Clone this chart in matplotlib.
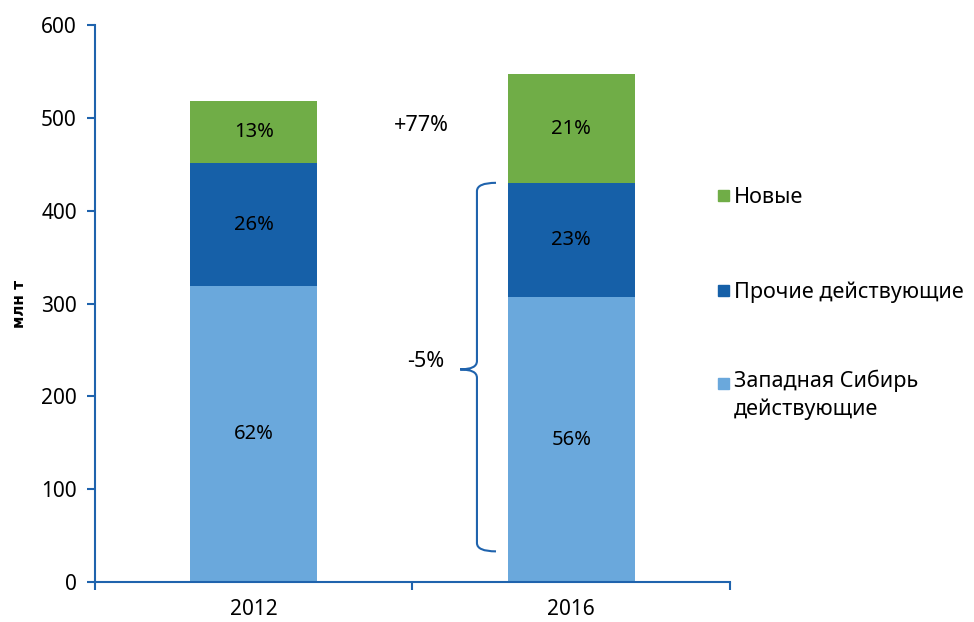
import matplotlib.pyplot as plt
from matplotlib.path import Path
from matplotlib.patches import PathPatch, Rectangle
import numpy as np

plt.rcParams['font.family'] = ['Noto Sans', 'DejaVu Sans']

# data (млн т)
years = ["2012", "2016"]
west_siberia = [319, 307]
other_active = [132, 123]
new_fields = [67, 117]
pct_west = ["62%", "56%"]
pct_other = ["26%", "23%"]
pct_new = ["13%", "21%"]
labels = ["Новые", "Прочие действующие", "Западная Сибирь\nдействующие"]

c_light = "#6aa8dc"
c_dark = "#1660a8"
c_green = "#70ad47"
c_axis = "#1f63ad"

fig = plt.figure(figsize=(9.74, 6.22), dpi=100)
ax = fig.add_axes([0.0975, 0.0643, 0.652, 0.8955])

x = np.arange(len(years))
w = 0.4
b1 = np.array(west_siberia)
b2 = b1 + np.array(other_active)
ax.bar(x, west_siberia, w, color=c_light)
ax.bar(x, other_active, w, bottom=b1, color=c_dark)
ax.bar(x, new_fields, w, bottom=b2, color=c_green)

fs_pct = 14.5
for i in range(len(years)):
    ax.text(x[i], west_siberia[i] / 2, pct_west[i], ha='center', va='center', fontsize=fs_pct)
    ax.text(x[i], b1[i] + other_active[i] / 2, pct_other[i], ha='center', va='center', fontsize=fs_pct)
    ax.text(x[i], b2[i] + new_fields[i] / 2, pct_new[i], ha='center', va='center', fontsize=fs_pct)

ax.text(0.527, 492, "+77%", ha='center', va='center', fontsize=15.5)
ax.text(0.54, 237, "-5%", ha='center', va='center', fontsize=15.5)

# brace
top, bot, tip = b2[1], 33, 229
xl, xt, xe = 0.703, 0.65, 0.763
r = 9
verts = [(xe, top), (xl, top), (xl, top - r),
         (xl, tip + r), (xl, tip), (xt, tip),
         (xl, tip), (xl, tip - r),
         (xl, bot + r), (xl, bot), (xe, bot)]
codes = [Path.MOVETO, Path.CURVE3, Path.CURVE3,
         Path.LINETO, Path.CURVE3, Path.CURVE3,
         Path.CURVE3, Path.CURVE3,
         Path.LINETO, Path.CURVE3, Path.CURVE3]
ax.add_patch(PathPatch(Path(verts, codes), fill=False, edgecolor=c_axis, lw=1.5))

ax.set_xlim(-0.5, 1.5)
ax.set_ylim(0, 600)
ax.set_yticks(range(0, 601, 100))
ax.set_xticks(x)
ax.set_xticklabels(years)
ax.set_xticks([-0.5, 0.5, 1.5], minor=True)
ax.tick_params(axis='x', which='major', length=0, pad=12, labelsize=15)
ax.tick_params(axis='x', which='minor', length=6, width=1.5, color=c_axis, direction='out')
ax.tick_params(axis='y', length=6, width=1.5, color=c_axis, labelsize=15, pad=7)
for s in ['top', 'right']:
    ax.spines[s].set_visible(False)
for s in ['left', 'bottom']:
    ax.spines[s].set_color(c_axis)
    ax.spines[s].set_linewidth(1.5)
ax.set_ylabel("млн т", fontsize=11, fontweight='bold', family=['DejaVu Sans'], labelpad=10)

# legend
leg_y = [195, 290, 383]
for col, lab, yy in zip([c_green, c_dark, c_light], labels, leg_y):
    fig.patches.append(Rectangle((718 / 974, 1 - (yy + 6) / 622), 11 / 974, 11 / 622,
                                 transform=fig.transFigure, color=col, figure=fig))
    if '\n' in lab:
        fig.text(734 / 974, 1 - (yy - 13) / 622, lab, fontsize=15.5, va='top', linespacing=1.35)
    else:
        fig.text(734 / 974, 1 - yy / 622, lab, fontsize=15.5, va='center_baseline')

fig.savefig("out.png", dpi=100)
